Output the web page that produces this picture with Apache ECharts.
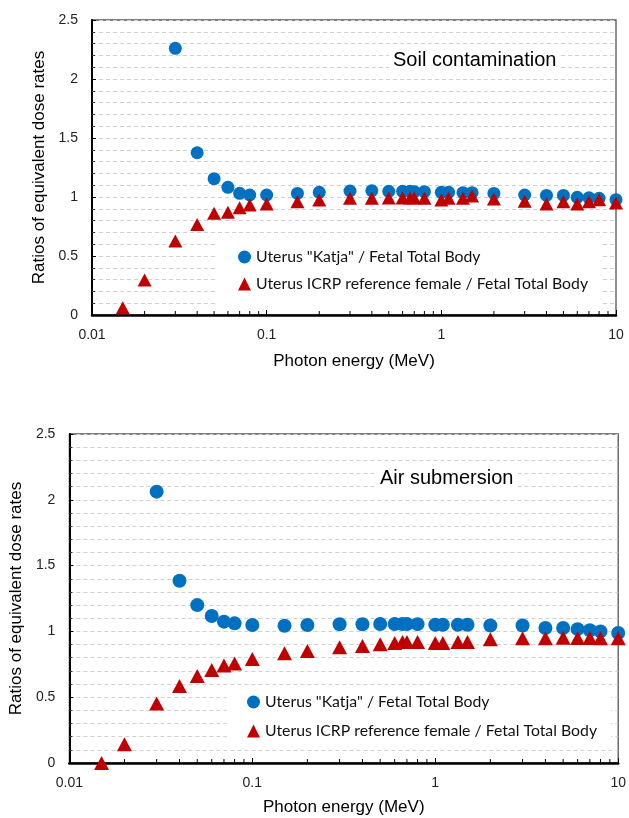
<!DOCTYPE html>
<html>
<head>
<meta charset="UTF-8">
<title>Ratios of equivalent dose rates</title>
<script src="https://cdn.jsdelivr.net/npm/echarts@6/dist/echarts.min.js"></script>
<style>
  html, body { margin: 0; padding: 0; background: #fff; }
  #main { width: 629px; height: 818px; }
</style>
</head>
<body>
<div id="main"></div>
<script>
// photon energies (MeV)
var energy = [0.015, 0.02, 0.03, 0.04, 0.05, 0.06, 0.07, 0.08, 0.1, 0.15, 0.2, 0.3, 0.4, 0.5, 0.6, 0.662, 0.7, 0.8, 1, 1.1, 1.33, 1.5, 2, 3, 4, 5, 6, 7, 8, 10];
// soil contamination
var soilKatja = [null, null, 2.26, 1.375, 1.155, 1.082, 1.031, 1.017, 1.017, 1.03, 1.04, 1.051, 1.053, 1.048, 1.048, 1.048, 1.045, 1.045, 1.04, 1.04, 1.037, 1.037, 1.03, 1.017, 1.013, 1.013, 0.997, 0.993, 0.989, 0.977];
var soilICRP = [0.062, 0.297, 0.627, 0.768, 0.862, 0.87, 0.909, 0.932, 0.94, 0.96, 0.975, 0.989, 0.989, 0.992, 0.992, 0.992, 0.992, 0.99, 0.975, 0.989, 0.99, 1.008, 0.983, 0.963, 0.94, 0.96, 0.94, 0.96, 0.977, 0.95];
// air submersion
var airKatja = [null, null, 2.062, 1.385, 1.2, 1.117, 1.074, 1.061, 1.049, 1.043, 1.049, 1.054, 1.054, 1.056, 1.056, 1.056, 1.056, 1.055, 1.051, 1.051, 1.051, 1.051, 1.045, 1.045, 1.026, 1.026, 1.017, 1.009, 1.0, 0.988];
var airICRP = [0.0, 0.142, 0.453, 0.585, 0.661, 0.707, 0.74, 0.757, 0.79, 0.834, 0.851, 0.879, 0.889, 0.902, 0.912, 0.919, 0.92, 0.919, 0.912, 0.912, 0.919, 0.92, 0.941, 0.947, 0.947, 0.952, 0.95, 0.95, 0.947, 0.947];
// minor ticks of the log axis
var minorX = [0.02, 0.03, 0.04, 0.05, 0.06, 0.07, 0.08, 0.09, 0.2, 0.3, 0.4, 0.5, 0.6, 0.7, 0.8, 0.9, 2, 3, 4, 5, 6, 7, 8, 9];

var nameKatja = 'Uterus "Katja" / Fetal Total Body';
var nameICRP = 'Uterus ICRP reference female / Fetal Total Body';

function pairs(vals) {
  var out = [];
  for (var i = 0; i < energy.length; i++) {
    if (vals[i] != null) out.push([energy[i], vals[i]]);
  }
  return out;
}

var font = '"Liberation Sans", Arial, sans-serif';
var dash = { color: '#d0d0d0', width: 1, type: [4, 3] };

function xAx(idx) {
  return {
    gridIndex: idx, type: 'log', logBase: 10, min: 0.01, max: 10,
    name: 'Photon energy (MeV)', nameLocation: 'middle', nameGap: idx ? 36 : 38,
    nameTextStyle: { fontFamily: font, fontSize: 17, color: '#000' },
    axisLine: { show: true, lineStyle: { color: '#000', width: 2.5 } },
    axisTick: { show: true, inside: true, length: 5, lineStyle: { color: '#000' } },
    axisLabel: { fontFamily: font, fontSize: 14, color: '#222', margin: 13 },
    splitLine: { show: false }
  };
}
function yAx(idx) {
  return {
    gridIndex: idx, type: 'value', min: 0, max: 2.5, interval: 0.5,
    name: 'Ratios of equivalent dose rates', nameLocation: 'middle', nameGap: 40,
    nameTextStyle: { fontFamily: font, fontSize: 17, color: '#000' },
    axisLine: { show: true, lineStyle: { color: '#000', width: 2 } },
    axisTick: { show: true, inside: true, length: 4, lineStyle: { color: '#000' } },
    minorTick: { show: true, splitNumber: 5, length: 3, lineStyle: { color: '#333' } },
    axisLabel: { fontFamily: font, fontSize: 14, color: '#222', margin: 14 },
    splitLine: { show: true, lineStyle: dash },
    minorSplitLine: { show: true, lineStyle: dash }
  };
}
function legend(left, top, gap, pad) {
  return {
    orient: 'vertical', left: left, top: top, itemGap: gap,
    itemWidth: 13, itemHeight: 13, padding: pad,
    backgroundColor: '#fff',
    data: [nameKatja, nameICRP],
    textStyle: { fontFamily: 'Lato, sans-serif', fontSize: 15.8, color: '#111' }
  };
}
function scatter(name, idx, vals, sym, size, color, z) {
  return {
    name: name, type: 'scatter', xAxisIndex: idx, yAxisIndex: idx,
    symbol: sym, symbolSize: size, itemStyle: { color: color, opacity: 1 },
    data: pairs(vals), z: z
  };
}
function minorTicks(idx) {
  return {
    type: 'custom', xAxisIndex: idx, yAxisIndex: idx, silent: true, z: 5,
    data: minorX.map(function (v) { return [v, 0]; }),
    renderItem: function (params, api) {
      var p = api.coord([api.value(0), 0]);
      return { type: 'line', shape: { x1: p[0], y1: p[1], x2: p[0], y2: p[1] - 4 },
               style: { stroke: '#000', lineWidth: 1 } };
    }
  };
}

var blue = '#0070C0', red = '#C00000';

var myChart = echarts.init(document.getElementById('main'));
var option = {
  backgroundColor: '#fff',
  animation: false,
  grid: [
    { left: 92, top: 20, width: 524, height: 295, show: true, backgroundColor: '#fff', borderColor: '#555', borderWidth: 1.3 },
    { left: 68, top: 434, width: 554, height: 329, show: true, backgroundColor: '#fff', borderColor: '#555', borderWidth: 1.3 }
  ],
  xAxis: [xAx(0), xAx(1)],
  yAxis: [yAx(0), yAx(1)],
  legend: [legend(218, 237, 11, [12, 14, 16, 20]), legend(227, 688, 13, [6, 14, 8, 20])],
  graphic: [
    { type: 'text', left: 389, top: 48, z: 100,
      style: { text: 'Soil contamination', fontFamily: font, fontSize: 20, fill: '#000',
               backgroundColor: '#fff', padding: [2, 4] } },
    { type: 'text', left: 376, top: 466, z: 100,
      style: { text: 'Air submersion', fontFamily: font, fontSize: 20, fill: '#000',
               backgroundColor: '#fff', padding: [2, 4] } }
  ],
  series: [
    scatter(nameKatja, 0, soilKatja, 'circle', 13, blue, 3),
    scatter(nameICRP, 0, soilICRP, 'triangle', [14, 13], red, 4),
    scatter(nameKatja, 1, airKatja, 'circle', 14, blue, 3),
    scatter(nameICRP, 1, airICRP, 'triangle', [15, 14], red, 4),
    minorTicks(0),
    minorTicks(1)
  ]
};
myChart.setOption(option);
</script>
</body>
</html>
